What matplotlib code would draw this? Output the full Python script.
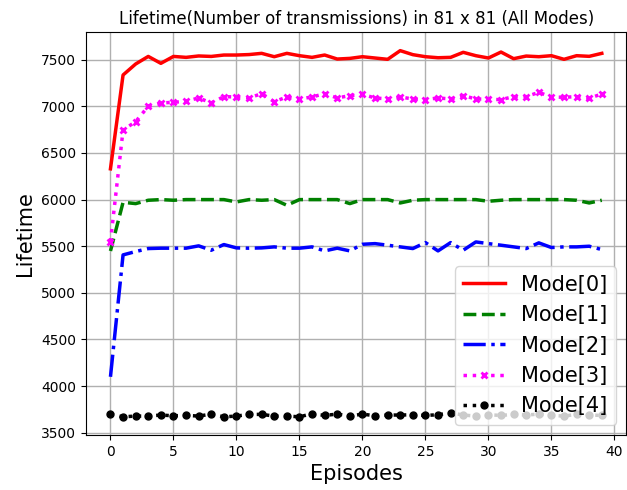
import matplotlib
matplotlib.use("Agg")
import matplotlib.pyplot as plt
import numpy as np

episodes = list(range(40))

mode0 = [6330, 7336, 7454, 7535, 7461, 7535, 7525, 7540, 7535, 7550,
         7550, 7555, 7568, 7532, 7568, 7543, 7525, 7550, 7507, 7514,
         7532, 7518, 7504, 7597, 7554, 7532, 7521, 7525, 7579, 7543,
         7518, 7582, 7511, 7539, 7532, 7543, 7504, 7543, 7536, 7568]

mode1 = [5449, 5971, 5957, 5993, 6000, 5993, 6000, 6000, 6000, 6000,
         5975, 6000, 5993, 6000, 5939, 6000, 6000, 6000, 6000, 5957,
         6000, 6000, 6000, 5964, 5993, 6000, 6000, 6000, 6000, 6000,
         5982, 5993, 6000, 6000, 6000, 6000, 6000, 5993, 5964, 5993]

mode2 = [4100, 5407, 5443, 5475, 5479, 5479, 5479, 5504, 5457, 5518,
         5482, 5479, 5482, 5493, 5479, 5479, 5493, 5450, 5479, 5450,
         5521, 5528, 5511, 5493, 5475, 5539, 5450, 5539, 5457, 5546,
         5528, 5511, 5493, 5475, 5536, 5486, 5493, 5493, 5500, 5464]

mode3 = [5550, 6745, 6836, 7000, 7036, 7043, 7054, 7090, 7036, 7104,
         7100, 7090, 7136, 7050, 7100, 7079, 7100, 7136, 7090, 7115,
         7128, 7090, 7079, 7100, 7079, 7072, 7090, 7079, 7115, 7079,
         7075, 7072, 7104, 7104, 7150, 7100, 7097, 7104, 7086, 7133]

mode4 = [3700, 3671, 3679, 3679, 3690, 3682, 3686, 3679, 3700, 3671,
         3679, 3697, 3697, 3679, 3679, 3671, 3704, 3686, 3700, 3679,
         3700, 3682, 3690, 3690, 3693, 3686, 3693, 3714, 3690, 3679,
         3693, 3686, 3697, 3690, 3700, 3686, 3679, 3697, 3690, 3686]

labels = ["Mode[0]", "Mode[1]", "Mode[2]", "Mode[3]", "Mode[4]"]

fig = plt.figure(figsize=(6.27, 4.9), dpi=100)
ax = fig.add_axes([0.137, 0.112, 0.862, 0.822])

ax.plot(episodes, mode0, color="red", linestyle="-", linewidth=2.5, label=labels[0])
ax.plot(episodes, mode1, color="green", linestyle="--", linewidth=2.5, label=labels[1])
ax.plot(episodes, mode2, color="blue", linestyle="-.", linewidth=2.5, label=labels[2])
ax.plot(episodes, mode3, color="magenta", linestyle=":", linewidth=2.5,
        marker="x", markersize=5, markeredgewidth=2, label=labels[3])
ax.plot(episodes, mode4, color="black", linestyle=":", linewidth=2.5,
        marker="o", markersize=5, label=labels[4])

ax.set_title("Lifetime(Number of transmissions) in 81 x 81 (All Modes)", fontsize=12)
ax.set_xlabel("Episodes", fontsize=15)
ax.set_ylabel("Lifetime", fontsize=15)
ax.grid(True, color="#b0b0b0", linewidth=1)
ax.set_xticks(range(0, 41, 5))
ax.legend(loc="lower right", fontsize=15)

fig.savefig("out.png", dpi=100)
